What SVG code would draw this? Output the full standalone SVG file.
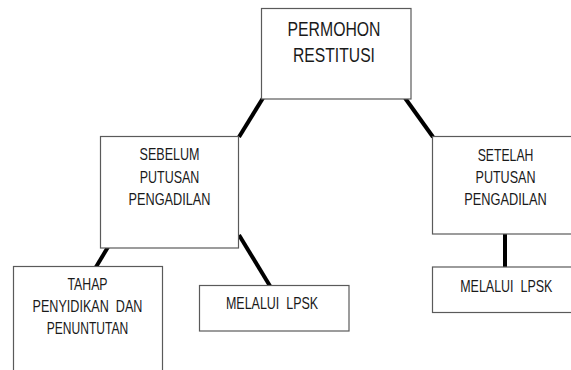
<svg xmlns="http://www.w3.org/2000/svg" width="571" height="370" viewBox="0 0 571 370">
<style>
.box{fill:#ffffff;stroke:#5a5a5a;stroke-width:1.2}
.t{font-family:"Liberation Sans",Arial,sans-serif;font-size:16px;fill:#1a1a1a;text-anchor:middle}
.big{font-size:20px}
.c{stroke:#000000;stroke-width:4;fill:none}
</style>
<rect width="571" height="370" fill="#ffffff"/>
<g id="connectors">
<line class="c" x1="263" y1="98" x2="239" y2="137"/>
<line class="c" x1="405" y1="98" x2="433" y2="137"/>
<line class="c" x1="108" y1="247" x2="96" y2="267"/>
<line class="c" x1="239" y1="235" x2="270" y2="286"/>
<line class="c" x1="505" y1="234" x2="505" y2="267"/>
</g>
<g id="permohon">
<rect class="box" x="261.5" y="8.5" width="149.5" height="90.5"/>
<text class="t big" transform="translate(334 36) scale(0.79 1)">PERMOHON</text>
<text class="t big" transform="translate(334 61.5) scale(0.785 1)">RESTITUSI</text>
</g>
<g id="sebelum">
<rect class="box" x="100.5" y="136.5" width="138" height="111.5"/>
<text class="t" transform="translate(169.5 160) scale(0.785 1)">SEBELUM</text>
<text class="t" transform="translate(169.5 182.7) scale(0.78 1)">PUTUSAN</text>
<text class="t" transform="translate(169.5 205) scale(0.795 1)">PENGADILAN</text>
</g>
<g id="setelah">
<rect class="box" x="432.5" y="136.5" width="160" height="97.5"/>
<text class="t" transform="translate(505.5 160.5) scale(0.765 1)">SETELAH</text>
<text class="t" transform="translate(505.5 182.7) scale(0.785 1)">PUTUSAN</text>
<text class="t" transform="translate(505.5 205) scale(0.8 1)">PENGADILAN</text>
</g>
<g id="tahap">
<rect class="box" x="13.5" y="266.5" width="149" height="120"/>
<text class="t" transform="translate(87.5 290) scale(0.77 1)">TAHAP</text>
<text class="t" transform="translate(87.5 311.7) scale(0.788 1)" xml:space="preserve">PENYIDIKAN  DAN</text>
<text class="t" transform="translate(87.5 334) scale(0.755 1)">PENUNTUTAN</text>
</g>
<g id="lpsk-left">
<rect class="box" x="199.5" y="285.5" width="149.5" height="45.5"/>
<text class="t" transform="translate(272 309) scale(0.78 1)" xml:space="preserve">MELALUI  LPSK</text>
</g>
<g id="lpsk-right">
<rect class="box" x="432.5" y="267" width="160" height="45.5"/>
<text class="t" transform="translate(506.3 291.5) scale(0.78 1)" xml:space="preserve">MELALUI  LPSK</text>
</g>
</svg>
